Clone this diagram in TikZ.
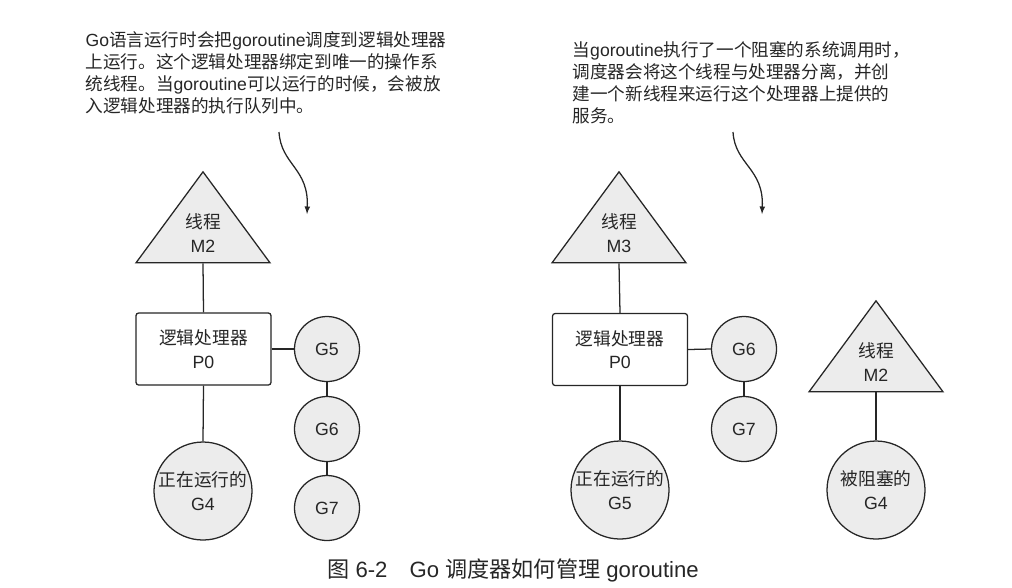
\documentclass[tikz,border=0pt]{standalone}
\usepackage{fontspec}
\setmainfont{Liberation Sans}
\newfontfamily\zh{Noto Sans CJK SC}
\usetikzlibrary{shapes.geometric}
\usetikzlibrary{positioning}

\tikzset{
  every node/.style={font=\fontsize{13.3}{17.6}\selectfont},
  thread/.style={draw, fill=gray!15, isosceles triangle, shape border rotate=90,
    isosceles triangle stretches, minimum width=100.5pt, minimum height=68.25pt,
    inner sep=0pt, align=center},
  proc/.style={draw, fill=white, rounded corners=2pt, minimum width=101.25pt,
    minimum height=54pt, align=center},
  gor/.style={draw, fill=gray!15, circle, minimum size=48.75pt, inner sep=0pt, align=center},
  gbig/.style={gor, minimum size=73.5pt},
  note/.style={anchor=north west, align=left, inner sep=0pt, font=\fontsize{13.2}{16.4}\selectfont},
}

\begin{document}
\begin{tikzpicture}[x=0.75pt, y=-0.75pt, color=black!85, line width=0.95pt]
			\useasboundingbox (0,0) rectangle (1012,587);
			% left: before the blocking call
			\node[note] (txt1) at (85,31) {Go{\zh 语言运行时会把}goroutine{\zh 调度到逻辑处理器}\\
				{\zh 上运行。这个逻辑处理器绑定到唯一的操作系}\\
				{\zh 统线程。当}goroutine{\zh 可以运行的时候，会被放}\\
				{\zh 入逻辑处理器的执行队列中。}};
			\node[thread] (m2) at (203,233) {{\zh 线程}\\M2};
			\node[proc] (p0) at (203.5,349) {{\zh 逻辑处理器}\\P0};
			\node[gor] (g5) at (327,349) {G5};
			\node[gor] (g6) at (327,429) {G6};
			\node[gor] (g7) at (327,508) {G7};
			\node[gbig] (g4) at (203,491) {{\zh 正在运行的}\\G4};
			\draw (m2.south)--(p0.north);
			\draw (p0.south)--(g4.north);
			\draw (p0.east)--(g5.west);
			\draw (g5)--(g6);
			\draw (g6)--(g7);
			\coordinate (a1) at (279,132);
			\coordinate (b1) at (307,214);
			\draw [-latex] (a1) .. controls (281,165) and (309,168) .. (b1);
			% right: after the blocking call
			\node[note] (txt2) at (572,41) {{\zh 当}goroutine{\zh 执行了一个阻塞的系统调用时，}\\
				{\zh 调度器会将这个线程与处理器分离，并创}\\
				{\zh 建一个新线程来运行这个处理器上提供的}\\
				{\zh 服务。}};
			\node[thread] (m3) at (619,233) {{\zh 线程}\\M3};
			\node[proc] (p0b) at (620,349.5) {{\zh 逻辑处理器}\\P0};
			\node[gor] (g6b) at (744,349) {G6};
			\node[gor] (g7b) at (744,429) {G7};
			\node[gbig] (g5b) at (620,490) {{\zh 正在运行的}\\G5};
			\node[thread] (m2b) at (876,362) {{\zh 线程}\\M2};
			\node[gbig] (g4b) at (876,490) {{\zh 被阻塞的}\\G4};
			\draw (m3.south)--(p0b.north);
			\draw (p0b.south)--(g5b.north);
			\draw (p0b.east)--(g6b.west);
			\draw (g6b)--(g7b);
			\draw (m2b.south)--(g4b.north);
			\coordinate (a2) at (733,132);
			\coordinate (b2) at (762,214);
			\draw [-latex] (a2) .. controls (735,165) and (764,168) .. (b2);
			% caption
			\node[font=\fontsize{16.6}{19}\selectfont] (cap) at (513,570) {{\zh 图} 6-2\quad Go {\zh 调度器如何管理} goroutine};
\end{tikzpicture}
\end{document}
